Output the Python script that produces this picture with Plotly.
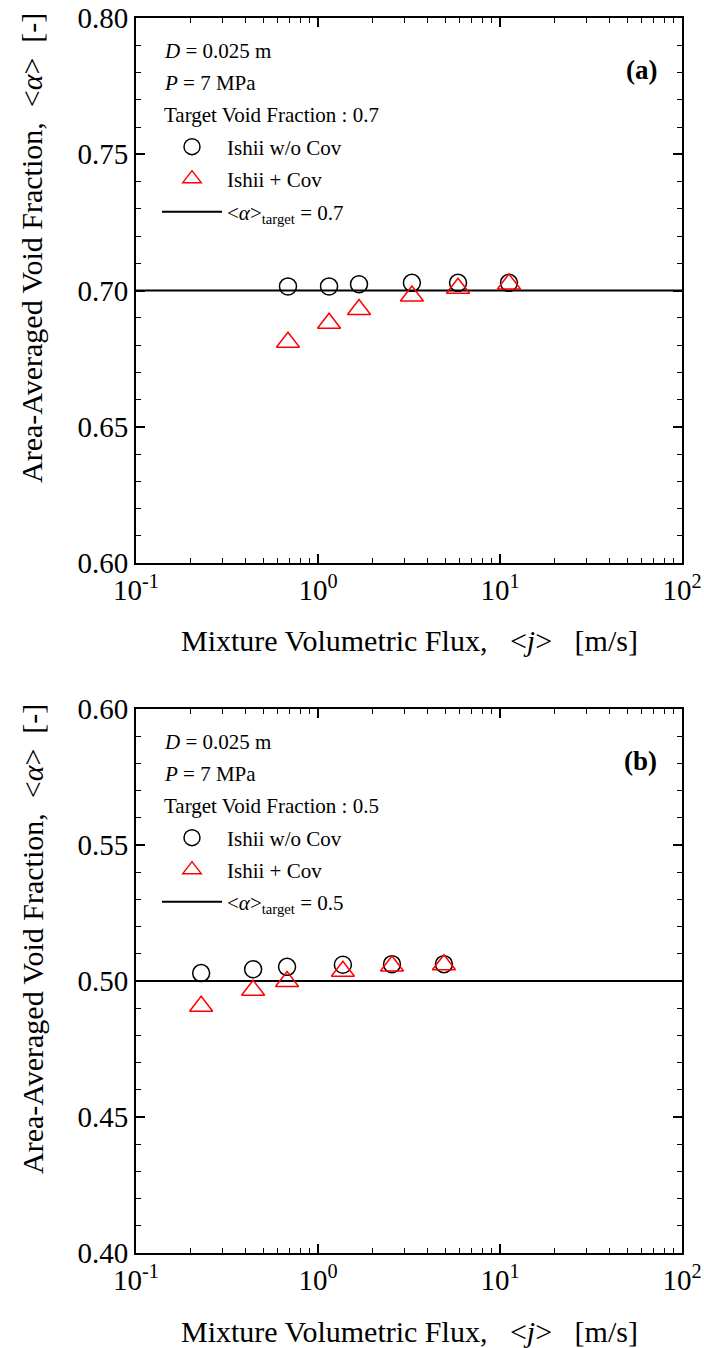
import plotly.graph_objects as go

# ---------------- data ----------------
j_a = [0.684, 1.15, 1.68, 3.28, 5.88, 11.2]
alpha_a_wo_cov = [0.7015, 0.7015, 0.7023, 0.7028, 0.7028, 0.7028]
alpha_a_cov = [0.681, 0.688, 0.693, 0.698, 0.7008, 0.7024]
target_a = 0.7

j_b = [0.228, 0.44, 0.676, 1.37, 2.55, 4.92]
alpha_b_wo_cov = [0.5029, 0.5043, 0.5052, 0.5060, 0.5062, 0.5062]
alpha_b_cov = [0.4907, 0.4966, 0.4998, 0.5036, 0.5055, 0.5060]
target_b = 0.5

x_tickvals = [0.1, 1, 10, 100]
x_ticktext = ["10<sup>-1</sup>", "10<sup>0</sup>", "10<sup>1</sup>", "10<sup>2</sup>"]
x_minor = [k * 10.0 ** e for e in (-1, 0, 1) for k in range(2, 10)]

FONT = "Liberation Serif"
W, H = 704, 1348
L, R, T, B = 136, 22, 18, 95
PW = W - L - R
PH = H - T - B


def px_x(px):
    return (px - L) / PW


def px_y(py):
    return (H - B - py) / PH


fig = go.Figure()

# panel (a)
fig.add_trace(go.Scatter(x=j_a, y=alpha_a_wo_cov, mode="markers", name="Ishii w/o Cov",
                         marker=dict(symbol="circle-open", size=17, color="black", line=dict(width=1.5)),
                         xaxis="x", yaxis="y", legend="legend"))
fig.add_trace(go.Scatter(x=j_a, y=alpha_a_cov, mode="markers", name="Ishii + Cov",
                         marker=dict(symbol="triangle-up-open", size=20, color="red", line=dict(width=1.5)),
                         xaxis="x", yaxis="y", legend="legend2"))
fig.add_trace(go.Scatter(x=[None], y=[None], mode="lines",
                         name="&lt;<i>α</i>&gt;<sub>target</sub> = 0.7",
                         line=dict(color="black", width=2), xaxis="x", yaxis="y", legend="legend3"))
# panel (b)
fig.add_trace(go.Scatter(x=j_b, y=alpha_b_wo_cov, mode="markers", name="Ishii w/o Cov",
                         marker=dict(symbol="circle-open", size=17, color="black", line=dict(width=1.5)),
                         xaxis="x2", yaxis="y2", legend="legend4"))
fig.add_trace(go.Scatter(x=j_b, y=alpha_b_cov, mode="markers", name="Ishii + Cov",
                         marker=dict(symbol="triangle-up-open", size=20, color="red", line=dict(width=1.5)),
                         xaxis="x2", yaxis="y2", legend="legend5"))
fig.add_trace(go.Scatter(x=[None], y=[None], mode="lines",
                         name="&lt;<i>α</i>&gt;<sub>target</sub> = 0.5",
                         line=dict(color="black", width=2), xaxis="x2", yaxis="y2", legend="legend6"))

# target lines
fig.add_shape(type="line", xref="x domain", yref="y", x0=0, x1=1, y0=target_a, y1=target_a,
              line=dict(color="black", width=2), layer="below")
fig.add_shape(type="line", xref="x2 domain", yref="y2", x0=0, x1=1, y0=target_b, y1=target_b,
              line=dict(color="black", width=2), layer="below")

tickfont = dict(family=FONT, size=29, color="black")


def xaxis_cfg(anchor):
    return dict(type="log", range=[-1, 2], domain=[0, 1], anchor=anchor, automargin=False,
                tickmode="array", tickvals=x_tickvals, ticktext=x_ticktext,
                ticks="inside", ticklen=9, tickwidth=1.5, tickcolor="black",
                mirror="allticks", showline=True, linewidth=2, linecolor="black",
                showgrid=False, zeroline=False, tickfont=tickfont,
                minor=dict(tickmode="array", tickvals=x_minor, ticks="inside", ticklen=5,
                           tickwidth=1.2, tickcolor="black", showgrid=False))


def yaxis_cfg(anchor, rng, dom):
    return dict(range=rng, domain=dom, anchor=anchor, automargin=False,
                tickmode="linear", dtick=0.05, tick0=0, tickformat=".2f",
                ticks="inside", ticklen=9, tickwidth=1.5, tickcolor="black",
                mirror="allticks", showline=True, linewidth=2, linecolor="black",
                showgrid=False, zeroline=False, tickfont=tickfont,
                minor=dict(tickmode="linear", dtick=0.01, tick0=0, ticks="inside", ticklen=5,
                           tickwidth=1.2, tickcolor="black", showgrid=False))


def legend_cfg(py):
    return dict(x=px_x(157), y=px_y(py), xanchor="left", yanchor="middle", xref="paper", yref="paper",
                bgcolor="rgba(0,0,0,0)", borderwidth=0, itemwidth=60,
                font=dict(family=FONT, size=21, color="black"))


fig.update_layout(
    template="none",
    width=W, height=H, autosize=False,
    margin=dict(l=L, r=R, t=T, b=B, autoexpand=False),
    paper_bgcolor="white", plot_bgcolor="white",
    xaxis=xaxis_cfg("y"),
    yaxis=yaxis_cfg("x", [0.6, 0.8], [px_y(563), 1.0]),
    xaxis2=xaxis_cfg("y2"),
    yaxis2=yaxis_cfg("x2", [0.4, 0.6], [0.0, px_y(709)]),
    legend=legend_cfg(147), legend2=legend_cfg(179), legend3=legend_cfg(212),
    legend4=legend_cfg(838), legend5=legend_cfg(870), legend6=legend_cfg(902),
    showlegend=True,
)

ann_font = dict(family=FONT, size=21, color="black")
title_font = dict(family=FONT, size=30, color="black")
annotations = []
for off, tv, lab in [(0, "0.7", "(a)"), (691, "0.5", "(b)")]:
    for py, txt in [(51, "<i>D</i> = 0.025 m"), (83, "<i>P</i> = 7 MPa"),
                    (115, "Target Void Fraction : " + tv)]:
        annotations.append(dict(x=px_x(162), y=px_y(py + off), xref="paper", yref="paper",
                                xanchor="left", yanchor="middle", text=txt, showarrow=False,
                                font=ann_font))
    annotations.append(dict(x=px_x(659), y=px_y(70 + off), xref="paper", yref="paper",
                            xanchor="right", yanchor="middle", text="<b>" + lab + "</b>",
                            showarrow=False, font=dict(family=FONT, size=27, color="black")))
    annotations.append(dict(x=px_x(409), y=px_y(640 + off), xref="paper", yref="paper",
                            xanchor="center", yanchor="middle",
                            text="Mixture Volumetric Flux,\u00a0\u00a0\u00a0&lt;<i>j</i>&gt;\u00a0\u00a0\u00a0[m/s]",
                            showarrow=False, font=title_font))
    annotations.append(dict(x=px_x(32), y=px_y(248 + off), xref="paper", yref="paper",
                            xanchor="center", yanchor="middle", textangle=-90,
                            text="Area-Averaged Void Fraction,\u00a0\u00a0&lt;<i>α</i>&gt;\u00a0\u00a0[-]",
                            showarrow=False, font=title_font))
fig.update_layout(annotations=annotations)

fig.write_html("out.html")
